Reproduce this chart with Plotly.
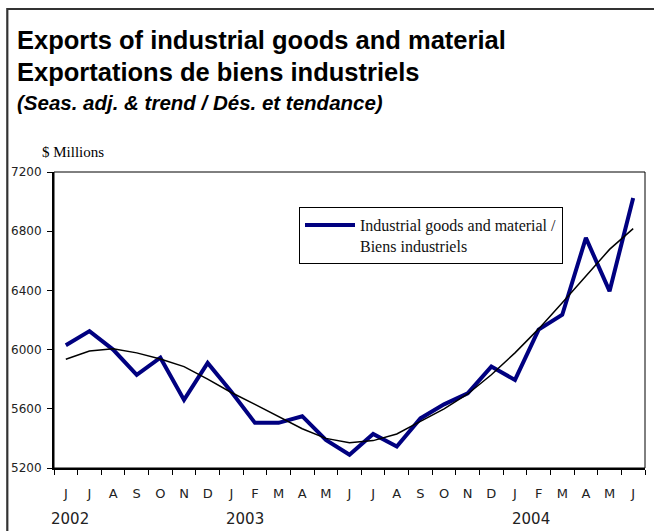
import plotly.graph_objects as go

# ---- data ----
months = ["J", "J", "A", "S", "O", "N", "D",
          "J", "F", "M", "A", "M", "J", "J", "A", "S", "O", "N", "D",
          "J", "F", "M", "A", "M", "J"]
years = ["2002", "2003", "2004"]
industrial = [6030, 6125, 6000, 5830, 5945, 5660, 5910,
              5715, 5505, 5505, 5550, 5390, 5290, 5430, 5345, 5535, 5630, 5705, 5885,
              5795, 6135, 6235, 6755, 6395, 7025]
trend = [5935, 5990, 6005, 5978, 5937, 5885, 5800,
         5710, 5630, 5545, 5465, 5400, 5370, 5385, 5430, 5515, 5600, 5700, 5830,
         5978, 6140, 6316, 6496, 6677, 6817]
y_ticks = [5200, 5600, 6000, 6400, 6800, 7200]

idx = list(range(len(months)))
boundaries = [i - 0.5 for i in range(len(months) + 1)]
# first category of each year: the first month, then every January
year_idx = [0] + [i for i in range(1, len(months)) if months[i - 1] == "D"]

# ---- layout geometry (pixels) ----
W, H = 654, 531
L, R, T, B = 54, 9, 172, 63
PW, PH = W - L - R, H - T - B


def px(x):
    return (x - L) / PW


def py(y):
    return (H - B - y) / PH


fig = go.Figure()
fig.add_trace(go.Scatter(
    x=idx, y=industrial, mode="lines",
    line=dict(color="#000080", width=4),
    name="Industrial goods and material /<br>Biens industriels",
    hoverinfo="x+y",
))
fig.add_trace(go.Scatter(
    x=idx, y=trend, mode="lines",
    line=dict(color="black", width=1.5),
    showlegend=False, hoverinfo="x+y",
))

tick_font = dict(family="DejaVu Sans", size=12, color="#222222")

fig.update_layout(
    width=W, height=H,
    margin=dict(l=L, r=R, t=T, b=B, pad=0),
    paper_bgcolor="white", plot_bgcolor="white",
    showlegend=True,
    legend=dict(
        x=px(299), y=py(207), xanchor="left", yanchor="top",
        bgcolor="white", bordercolor="black", borderwidth=1,
        font=dict(family="Liberation Serif", size=16, color="#111111"),
        itemwidth=50, valign="top",
    ),
    xaxis=dict(
        range=[-0.5, len(months) - 0.5], tickmode="array",
        tickvals=idx, ticktext=months, ticks="",
        ticklabelstandoff=12,
        tickfont=dict(family="DejaVu Sans", size=13, color="#222222"),
        showline=True, linecolor="black", linewidth=2,
        showgrid=False, zeroline=False,
        minor=dict(tickmode="array", tickvals=boundaries, ticks="outside",
                   ticklen=5, tickwidth=1.2, tickcolor="black", showgrid=False),
        fixedrange=True,
    ),
    xaxis2=dict(
        overlaying="x", anchor="y", side="bottom",
        range=[-0.5, len(months) - 0.5], tickmode="array",
        tickvals=boundaries, ticks="inside", ticklen=5, tickwidth=1.2,
        tickcolor="black", showticklabels=False, showline=False,
        showgrid=False, zeroline=False, fixedrange=True,
    ),
    yaxis=dict(
        range=[y_ticks[0], y_ticks[-1]], tickmode="array", tickvals=y_ticks,
        ticks="outside", ticklen=5, tickwidth=1.2, tickcolor="black",
        ticklabelstandoff=3,
        tickfont=tick_font,
        showline=True, linecolor="black", linewidth=2,
        showgrid=False, zeroline=False, fixedrange=True,
    ),
    yaxis2=dict(
        overlaying="y", anchor="x", side="left",
        range=[y_ticks[0], y_ticks[-1]], tickmode="array", tickvals=y_ticks,
        ticks="inside", ticklen=5, tickwidth=1.2, tickcolor="black",
        showticklabels=False, showline=False, showgrid=False,
        zeroline=False, fixedrange=True,
    ),
)

# plot frame and outer frame
fig.add_shape(type="rect", xref="paper", yref="paper", x0=0, x1=1, y0=0, y1=1,
              line=dict(color="black", width=1), layer="above")
fig.add_shape(type="rect", xref="paper", yref="paper",
              x0=px(7.3), x1=px(662), y0=py(545), y1=py(9),
              line=dict(color="#333333", width=2.2), layer="above")

# titles
fig.add_annotation(text="<b>Exports of industrial goods and material</b>",
                   xref="paper", yref="paper", x=px(15), y=py(40),
                   xanchor="left", yanchor="middle", showarrow=False,
                   font=dict(family="Liberation Sans", size=25.5, color="black"))
fig.add_annotation(text="<b>Exportations de biens industriels</b>",
                   xref="paper", yref="paper", x=px(15), y=py(72),
                   xanchor="left", yanchor="middle", showarrow=False,
                   font=dict(family="Liberation Sans", size=25.5, color="black"))
fig.add_annotation(text="<b><i>(Seas. adj. &amp; trend / Dés. et tendance)</i></b>",
                   xref="paper", yref="paper", x=px(15), y=py(102),
                   xanchor="left", yanchor="middle", showarrow=False,
                   font=dict(family="Liberation Sans", size=20.5, color="black"))
fig.add_annotation(text="$ Millions",
                   xref="paper", yref="paper", x=px(73), y=py(152),
                   xanchor="center", yanchor="middle", showarrow=False,
                   font=dict(family="Liberation Serif", size=15, color="black"))

# year labels under the month letters
year_shift = [4, 14, 16]
for yr, i, sh in zip(years, year_idx, year_shift):
    fig.add_annotation(text=yr, xref="x", yref="paper", x=i, y=py(519),
                       xshift=sh, xanchor="center", yanchor="middle",
                       showarrow=False,
                       font=dict(family="DejaVu Sans", size=15, color="#222222"))

fig.write_html("out.html", config={"displayModeBar": False},
               post_script="document.body.style.margin='0';document.body.style.overflow='hidden';")
